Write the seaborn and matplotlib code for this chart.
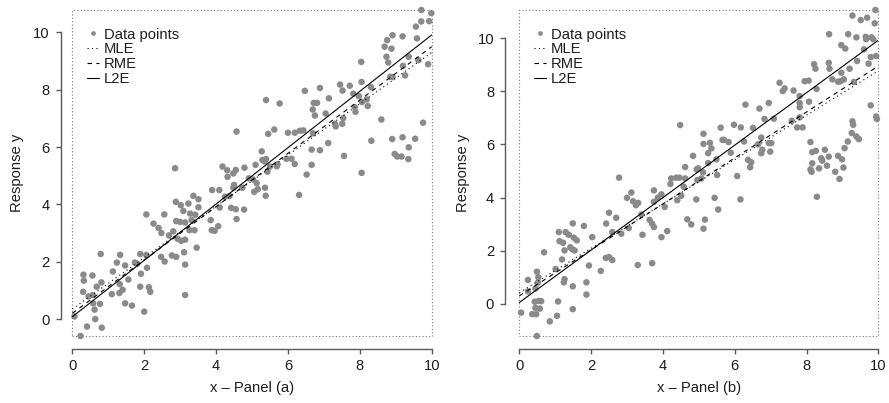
import numpy as np
import pandas as pd
import matplotlib
matplotlib.use("Agg")
import matplotlib.pyplot as plt
import seaborn as sns
from matplotlib.patches import Rectangle
from matplotlib.lines import Line2D

# ---------------- data ----------------
xa = [2.86, 2.88, 3.02, 3.23, 2.06, 2.56, 3.09, 3.00, 2.89, 3.14, 2.26, 2.40, 2.48, 2.69, 2.81,
      2.93, 3.03, 3.14, 2.77, 2.89, 3.11, 2.57, 2.47, 3.14, 0.79, 1.33, 1.89, 2.06, 1.24, 1.47,
      1.74, 1.80, 1.91, 2.08, 1.13, 1.56, 0.31, 0.56, 0.32, 0.68, 0.81, 1.32, 1.40, 1.31, 1.10,
      0.30, 0.45, 0.57, 1.89, 2.13, 2.17, 1.47, 1.66, 2.00, 0.77, 0.58, 0.62, 0.64, 0.41, 0.82,
      0.06, 0.23, 3.14,
      6.47, 5.39, 5.77, 4.57, 5.62, 5.45, 6.00, 6.19, 6.33, 6.43, 6.66, 6.66, 6.52, 5.27, 5.29,
      5.39, 5.35, 5.10, 4.18, 4.31, 4.48, 4.55, 4.32, 4.79, 4.50, 4.48, 4.73, 4.91, 5.03, 5.13,
      5.06, 5.16, 5.36, 5.38, 5.43, 5.50, 5.69, 5.71, 5.96, 6.10, 6.19, 6.31, 3.89, 4.09, 4.25,
      4.37, 4.42, 4.55, 4.78, 4.57, 4.10, 3.85, 3.88, 3.96, 4.06, 3.46, 3.37, 3.51, 3.51, 3.28,
      3.42, 3.32, 3.26, 3.40,
      9.71, 9.99, 9.93, 9.71, 9.56, 9.59, 9.19, 8.91, 8.76, 8.69, 8.88, 8.74, 8.79, 8.04, 9.36,
      9.20, 9.26, 9.63, 9.90, 8.85, 8.91, 7.45, 7.52, 7.72, 8.05, 7.82, 7.97, 6.89, 6.72, 6.81,
      6.69, 7.14, 7.05, 6.75, 7.86, 7.88, 8.06, 8.19, 8.22, 8.31, 7.54, 7.51, 7.31, 7.33, 6.70,
      8.60, 8.32, 9.76, 8.90, 9.19, 9.54, 9.36, 8.97, 9.04, 9.16, 9.35, 7.12, 6.89, 7.56, 8.05]
ya = [5.26, 4.09, 3.97, 4.03, 3.65, 3.65, 3.77, 3.39, 3.42, 3.37, 3.33, 3.18, 3.00, 2.92, 3.06,
      2.80, 2.73, 2.77, 2.22, 2.17, 2.33, 2.01, 2.17, 1.90, 2.27, 2.24, 2.27, 2.24, 1.97, 1.87,
      1.97, 1.93, 1.58, 1.79, 1.66, 1.38, 1.55, 1.52, 1.34, 1.13, 1.28, 1.22, 1.02, 0.91, 0.87,
      0.95, 0.79, 0.84, 1.13, 1.11, 0.95, 0.55, 0.47, 0.26, 0.53, 0.55, 0.33, 0.00, -0.26, -0.30,
      0.09, -0.59, 0.84,
      7.96, 7.64, 7.52, 6.54, 6.61, 6.46, 6.50, 6.50, 6.57, 6.58, 5.91, 5.38, 5.04, 5.85, 5.55,
      5.58, 5.50, 5.38, 5.32, 5.19, 5.08, 5.20, 4.96, 5.28, 4.68, 4.58, 4.58, 4.91, 4.87, 4.74,
      4.44, 4.53, 4.58, 4.30, 5.14, 5.32, 5.33, 5.40, 5.59, 5.59, 5.41, 4.33, 4.50, 4.50, 4.27,
      4.29, 3.88, 3.83, 3.82, 3.49, 3.89, 3.45, 3.10, 3.08, 3.24, 2.49, 4.30, 4.18, 3.90, 3.68,
      3.64, 3.45, 3.10, 3.10,
      10.78, 10.67, 10.39, 10.38, 10.20, 9.79, 9.86, 9.90, 9.73, 9.50, 9.43, 9.15, 8.95, 8.97, 9.15,
      8.83, 8.50, 9.03, 8.89, 8.45, 8.44, 8.18, 7.97, 8.14, 8.27, 7.86, 7.78, 8.06, 7.54, 7.54,
      7.31, 7.70, 7.17, 7.10, 7.39, 7.23, 7.57, 7.66, 7.43, 8.09, 7.01, 6.81, 6.81, 6.72, 6.48,
      6.96, 6.22, 6.85, 6.28, 6.34, 6.29, 5.99, 5.76, 5.67, 5.67, 5.58, 6.14, 5.89, 5.69, 5.10]

xb = [2.78, 3.12, 3.00, 3.17, 3.25, 2.50, 2.70, 2.42, 2.59, 2.84, 3.05, 1.49, 1.80, 1.10, 1.29,
      1.38, 1.12, 1.22, 1.52, 1.60, 1.42, 1.48, 1.54, 1.26, 2.03, 2.27, 1.94, 2.50, 2.59, 2.41,
      0.69, 1.19, 1.01, 1.26, 1.24, 1.87, 1.87, 1.49, 0.24, 0.24, 0.52, 0.53, 0.49, 0.45, 0.43,
      0.54, 0.61, 0.45, 0.57, 0.36, 0.47, 1.08, 1.05, 1.49, 0.85, 0.05, 0.49,
      6.30, 6.69, 4.48, 5.98, 6.17, 5.61, 5.13, 5.66, 5.70, 5.83, 5.13, 5.31, 5.35, 5.26, 5.89,
      6.26, 6.51, 5.49, 5.26, 4.84, 4.62, 4.94, 4.98, 5.12, 4.96, 5.07, 5.51, 6.07, 6.37, 6.46,
      6.43, 6.65, 4.23, 4.37, 4.46, 4.21, 4.62, 4.58, 4.51, 4.40, 4.93, 5.44, 6.16, 5.54, 4.05,
      3.96, 3.86, 3.75, 3.75, 3.40, 3.31, 3.63, 3.70, 3.75, 3.43, 3.96, 4.12, 4.68, 4.79, 5.17,
      5.13, 3.30, 3.70,
      9.92, 9.28, 9.51, 9.69, 9.90, 8.63, 9.16, 9.39, 9.65, 9.66, 9.81, 9.86, 8.97, 9.08, 9.60,
      9.94, 9.79, 9.73, 9.41, 9.20, 8.62, 8.64, 8.21, 8.25, 8.97, 8.72, 8.88, 9.04, 8.95, 9.32,
      7.95, 8.06, 7.25, 7.34, 7.39, 7.64, 7.81, 7.81, 7.81, 8.28, 8.07, 6.95, 6.83, 7.09, 7.59,
      7.81, 7.74, 7.89, 9.79, 9.94, 9.96, 9.28, 9.30, 9.26, 9.39, 9.46, 9.15, 9.06, 8.88, 8.99,
      8.80, 9.03, 8.92, 8.11, 8.16, 8.26, 8.51, 8.41, 8.44, 8.62, 8.16, 8.11, 8.14, 8.35, 8.57,
      8.29, 6.74, 6.95, 7.02, 6.77, 6.74, 6.99]
yb = [4.75, 4.19, 3.99, 3.86, 3.71, 3.43, 3.24, 3.02, 2.70, 2.64, 2.85, 3.03, 2.93, 2.70, 2.70,
      2.60, 2.36, 2.30, 2.49, 2.39, 2.13, 2.05, 2.01, 2.01, 2.51, 1.24, 1.44, 1.76, 1.65, 1.73,
      1.94, 1.67, 1.31, 0.93, 0.81, 0.81, 0.35, 0.66, 0.90, 0.47, 0.80, 1.00, 1.21, 0.58, 0.08,
      0.11, 0.10, -0.15, -0.18, -0.39, -0.39, 0.09, -0.45, -0.20, -0.66, -0.33, -1.21,
      7.50, 7.35, 6.73, 6.74, 6.64, 6.63, 6.40, 6.17, 6.17, 6.09, 6.02, 6.06, 5.85, 5.67, 5.69,
      6.11, 6.62, 5.44, 5.30, 5.57, 5.15, 5.06, 5.10, 4.95, 4.66, 4.72, 4.85, 4.81, 5.42, 5.33,
      5.14, 6.00, 4.72, 4.75, 4.75, 4.51, 4.72, 4.41, 4.07, 3.90, 3.93, 3.99, 3.93, 3.55, 3.65,
      4.12, 4.00, 4.27, 3.84, 3.36, 3.80, 3.16, 3.02, 2.89, 2.60, 2.51, 2.74, 3.18, 2.99, 3.17,
      2.83, 1.46, 1.53,
      11.06, 10.85, 10.68, 10.77, 10.56, 10.15, 10.15, 10.03, 10.05, 9.96, 10.03, 9.96, 9.74, 9.61, 9.58,
      9.33, 9.29, 9.04, 9.14, 8.85, 9.07, 8.85, 9.02, 8.85, 8.70, 8.45, 8.36, 8.45, 8.38, 8.35,
      8.38, 8.40, 8.32, 8.01, 8.11, 8.03, 7.82, 7.56, 7.40, 8.09, 7.61, 7.56, 6.96, 6.97, 6.89,
      7.02, 6.64, 6.64, 7.47, 7.05, 6.96, 6.87, 6.74, 6.43, 6.30, 6.20, 6.11, 5.86, 5.57, 5.44,
      4.97, 5.13, 4.70, 6.09, 5.71, 5.76, 5.80, 5.48, 5.39, 5.54, 5.29, 5.06, 4.97, 5.10, 5.20,
      4.03, 6.26, 6.05, 6.05, 5.80, 5.67, 5.73]

methods = ["MLE", "RME", "L2E"]
intercepts_a = [0.35, 0.20, 0.08]
slopes_a = [0.895, 0.930, 0.983]
intercepts_b = [0.42, 0.30, 0.05]
slopes_b = [0.835, 0.865, 0.987]
panel_names = ["(a)", "(b)"]
xticks = [0, 2, 4, 6, 8, 10]
yticks = [0, 2, 4, 6, 8, 10]

# ---------------- styling ----------------
sns.set_style("white")
plt.rcParams["font.family"] = ["Liberation Sans", "DejaVu Sans"]
FS = 10.6

POINT = "#8a8a8a"
AXC = "#5a5a5a"
TXT = "#1e1e1e"
styles = {"MLE": (0, (1, 3)), "RME": (0, (4, 4)), "L2E": "-"}

W, H = 889, 403
fig = plt.figure(figsize=(W / 100, H / 100), dpi=100)

panels = [
    dict(x=xa, y=ya, ic=intercepts_a, sl=slopes_a, name=panel_names[0],
         rect=[72.3 / W, (H - 336) / H, 359.4 / W, 326 / H], yoff=8.3, ylab=17),
    dict(x=xb, y=yb, ic=intercepts_b, sl=slopes_b, name=panel_names[1],
         rect=[519.3 / W, (H - 336) / H, 359.0 / W, 326 / H], yoff=10.3, ylab=463),
]

for p in panels:
    ax = fig.add_axes(p["rect"])
    df = pd.DataFrame({"x": p["x"], "y": p["y"]})
    sns.scatterplot(data=df, x="x", y="y", ax=ax, color=POINT, s=22,
                    edgecolor="none", linewidth=0, clip_on=False, zorder=2, legend=False)
    xs = np.array([0.0, 10.0])
    for m, a, b in zip(methods, p["ic"], p["sl"]):
        ldf = pd.DataFrame({"x": xs, "y": a + b * xs})
        sns.lineplot(data=ldf, x="x", y="y", ax=ax, color="black", lw=0.8,
                     linestyle=styles[m], estimator=None, legend=False, zorder=3)

    ax.set_xlim(0, 10)
    ax.set_ylim(min(p["y"]), max(p["y"]))

    # dotted plotting-region box
    for s in ax.spines.values():
        s.set_visible(False)
    ax.add_patch(Rectangle((0, 0), 1, 1, transform=ax.transAxes, fill=False,
                           ec="#777777", lw=0.8, ls=(0, (1, 2)), clip_on=False, zorder=1))

    # R-style detached axes
    ax.spines["left"].set_visible(True)
    ax.spines["bottom"].set_visible(True)
    ax.spines["left"].set_position(("outward", p["yoff"]))
    ax.spines["bottom"].set_position(("outward", 9.4))
    ax.spines["left"].set_bounds(0, 10)
    ax.spines["bottom"].set_bounds(0, 10)
    for s in ("left", "bottom"):
        ax.spines[s].set_color(AXC)
        ax.spines[s].set_linewidth(1.0)
    ax.set_xticks(xticks)
    ax.set_yticks(yticks)
    ax.set_xticklabels([str(t) for t in xticks])
    ax.set_yticklabels([str(t) for t in yticks])
    ax.tick_params(axis="both", which="major", bottom=True, left=True, top=False, right=False,
                   direction="out", length=3.8, width=1.0, color=AXC,
                   labelcolor=TXT, labelsize=FS, pad=3.5)
    ax.tick_params(axis="y", pad=4)
    ax.set_xlabel("x \u2013 Panel " + p["name"], color=TXT, fontsize=FS)
    ax.set_ylabel("Response y", color=TXT, fontsize=FS)
    ax.xaxis.set_label_coords(0.5, (336 - 388) / 326, transform=ax.transAxes)
    ax.xaxis.label.set_va("center")
    ax.yaxis.set_label_coords((p["ylab"] - p["rect"][0] * W) / (p["rect"][2] * W), 0.5,
                              transform=ax.transAxes)
    ax.yaxis.label.set_va("center")
    ax.grid(False)

    handles = [Line2D([], [], marker="o", ls="none", color=POINT, markersize=3.4,
                      markeredgewidth=0)]
    for m in methods:
        handles.append(Line2D([], [], color="black", lw=0.8, ls=styles[m]))
    ax.legend(handles, ["Data points"] + methods, loc="upper left",
              bbox_to_anchor=(0.041, 0.946), frameon=False, borderpad=0,
              borderaxespad=0, handlelength=0.8, handletextpad=0.35,
              labelspacing=0.06, fontsize=FS, labelcolor=TXT)

fig.savefig("out.png", dpi=100)
